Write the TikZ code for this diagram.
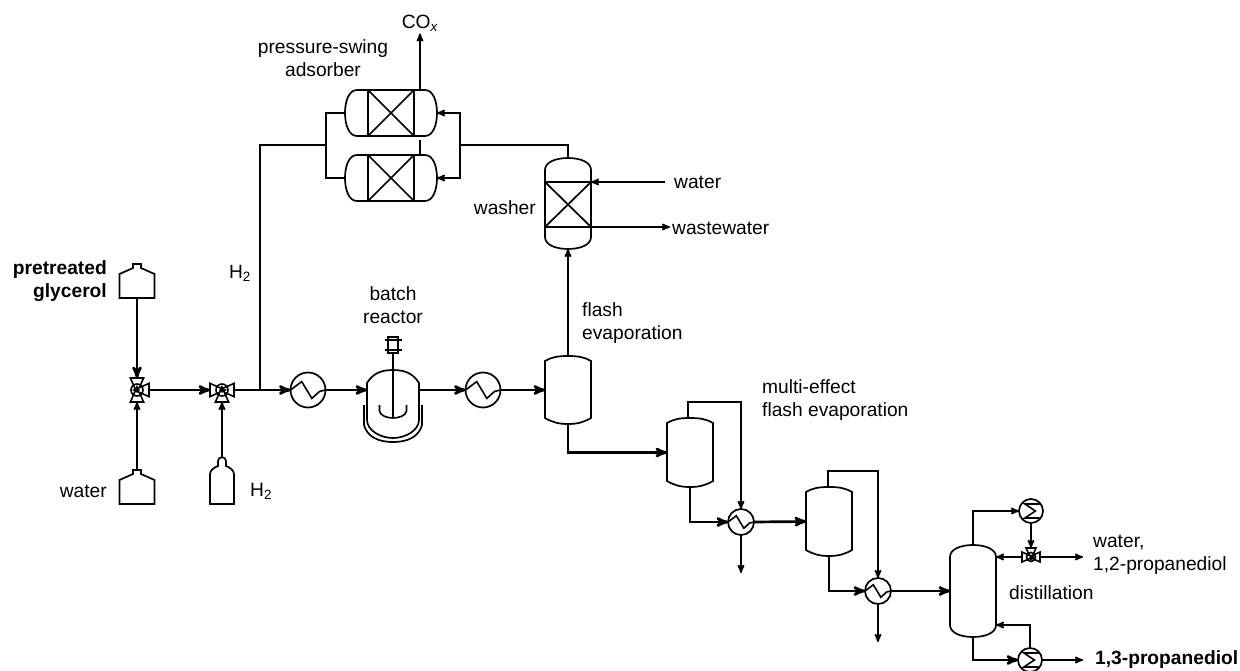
\documentclass[tikz,border=0pt]{standalone}
\usepackage{fontspec}
\setmainfont{Liberation Sans}
\usepackage{tikz}
\usetikzlibrary{arrows}
\usetikzlibrary{calc}
\tikzset{
    unit box/.style={inner sep=0pt, outer sep=0pt, minimum width=46pt},
    unit line/.style={line width=1.7pt, fill=white},
    port box/.style={circle, inner sep=0pt, outer sep=0pt}
}
% name, position, height
\newcommand{\drumunit}[3]{
    \node[unit box, minimum height=#3] (#1) at (#2) {};
    \draw[unit line] ($(#1.north west)+(0,5)$) .. controls +(7,-4) and +(-10,0) .. (#1.north)
        .. controls +(10,0) and +(-7,-4) .. ($(#1.north east)+(0,5)$)
        -- ($(#1.south east)+(0,-6)$) .. controls +(-7,4) and +(10,0) .. (#1.south)
        .. controls +(-10,0) and +(7,4) .. ($(#1.south west)+(0,-6)$) -- cycle;
}
\newcommand{\towerunit}[3]{
    \node[unit box, minimum height=#3] (#1) at (#2) {};
    \draw[unit line] ($(#1.north west)+(0,12)$) .. controls +(0,-8) and +(-12,0) .. (#1.north)
        .. controls +(12,0) and +(0,-8) .. ($(#1.north east)+(0,12)$)
        -- ($(#1.south east)+(0,-12)$) .. controls +(0,8) and +(12,0) .. (#1.south)
        .. controls +(-12,0) and +(0,8) .. ($(#1.south west)+(0,-12)$) -- cycle;
}
% name, position
\newcommand{\adsorberunit}[2]{
    \node[unit box, minimum width=92pt, minimum height=46pt] (#1) at (#2) {};
    \draw[unit line] ($(#1.north west)+(12,0)$) -- ($(#1.north east)+(-12,0)$)
        .. controls +(8,0) and +(0,-12) .. (#1.east) .. controls +(0,12) and +(8,0) .. ($(#1.south east)+(-12,0)$)
        -- ($(#1.south west)+(12,0)$) .. controls +(-8,0) and +(0,12) .. (#1.west)
        .. controls +(0,-12) and +(-8,0) .. cycle;
    \draw[unit line] ($(#1.north)+(-23,0)$) rectangle ($(#1.south)+(23,0)$);
    \draw[unit line] ($(#1.north)+(-23,0)$) -- ($(#1.south)+(23,0)$);
    \draw[unit line] ($(#1.north)+(23,0)$) -- ($(#1.south)+(-23,0)$);
}
\newcommand{\tankunit}[2]{
    \node[unit box, minimum width=35pt, minimum height=34pt] (#1) at (#2) {};
    \draw[unit line] (#1.south west) -- (#1.south east) -- ($(#1.north east)+(0,10)$)
        -- ($(#1.north)+(4,4)$) -- ($(#1.north)+(4,0)$) -- ($(#1.north)+(-4,0)$)
        -- ($(#1.north)+(-4,4)$) -- ($(#1.north west)+(0,10)$) -- cycle;
}
% name, position, radius
\newcommand{\heaterunit}[3]{
    \node[port box, draw, line width=1.7pt, fill=white, minimum size=2*#3] (#1) at (#2) {};
    \draw[line width=1.6pt, shift={(#2)}, scale=#3] (-1,0) -- (-.36,-.48) -- (.22,.48) -- (.66,.08) -- (1,0);
}
\newcommand{\coolerunit}[3]{
    \node[port box, draw, line width=1.7pt, fill=white, minimum size=2*#3] (#1) at (#2) {};
    \draw[line width=1.6pt, shift={(#2)}, scale=#3] (.72,-.58) -- (-.5,-.58) -- (.36,0) -- (-.5,.58) -- (.72,.58);
}
% radius, name, position, angles of the cones
\newcommand{\valveunit}[4][12]{
    \node[port box, minimum size=2*#1] (#2) at (#3) {};
    \begin{scope}[shift={(#3)}, scale=#1]
        \foreach \ang in {#4}
            \draw[line width=1.6pt, fill=white, rotate=\ang] (-.25,0) -- (1,-.55) -- (1,.55) -- cycle;
        \draw[line width=1.6pt] (0,0) circle (.5);
        \fill (0,0) circle (.22);
    \end{scope}
}
\begin{document}
\begin{tikzpicture}[
    x=1pt, y=-1pt,
    >=stealth',
    flow/.style={line width=1.7pt, ->},
    plain flow/.style={line width=1.7pt},
    main flow/.style={line width=2.7pt, ->},
    name text/.style={font=\fontsize{19.2}{22.5}\selectfont, inner sep=0pt, align=center},
    bold text/.style={name text, font=\fontsize{19.2}{22.5}\selectfont\bfseries}
    ]
    \useasboundingbox (0,0) rectangle (1240,671);

    % feed side
    \tankunit{tankA}{137,281}
    \tankunit{tankB}{137,487}
    \valveunit{mixA}{137,390}{90,270,0}
    \valveunit{mixB}{222,390}{0,180,270}
    % gas bottle
    \node[unit box, minimum width=24pt, minimum height=47pt] (bottle) at (222,480.5) {};
    \draw[unit line] (bottle.south west) -- (bottle.south east) -- ($(bottle.north east)+(0,17)$)
        .. controls +(0,-4) and +(3,1) .. ($(bottle.north)+(4,9)$) -- ($(bottle.north)+(4,4)$)
        .. controls +(0,-5) and +(0,-5) .. ($(bottle.north)+(-4,4)$) -- ($(bottle.north)+(-4,9)$)
        .. controls +(-3,1) and +(0,-4) .. ($(bottle.north west)+(0,17)$) -- cycle;
    \heaterunit{heatA}{308,390}{17.5}
    \heaterunit{heatB}{483,390}{17.5}

    % reactor
    \node[unit box, minimum width=52pt, minimum height=68pt] (reactor) at (393,404) {};
    \draw[unit line] ($(reactor.south west)+(-3,-33)$) -- ($(reactor.south west)+(-3,-13)$)
        .. controls +(3,11) and +(-16,0) .. ($(reactor.south)+(0,4)$)
        .. controls +(16,0) and +(-3,11) .. ($(reactor.south east)+(3,-13)$) -- ($(reactor.south east)+(3,-33)$);
    \draw[unit line] ($(reactor.north west)+(0,13)$) .. controls +(5,-8) and +(-14,0) .. (reactor.north)
        .. controls +(14,0) and +(-5,-8) .. ($(reactor.north east)+(0,13)$)
        -- ($(reactor.south east)+(0,-18)$) .. controls +(0,10) and +(13,0) .. (reactor.south)
        .. controls +(-13,0) and +(0,10) .. ($(reactor.south west)+(0,-18)$) -- cycle;
    \node[unit box, minimum width=10pt, minimum height=16pt, draw, line width=1.6pt] (motor) at (393,345) {};
    \draw[line width=1.6pt] ($(motor.north west)+(-3.5,3)$) -- ($(motor.north east)+(3.5,3)$);
    \draw[line width=1.6pt] ($(motor.south west)+(-3.5,-3)$) -- ($(motor.south east)+(3.5,-3)$);
    \coordinate (shaft) at (393,418);
    \draw[line width=1.6pt] (motor.south) -- (shaft);
    \draw[line width=1.6pt] (379.5,405) -- (379.5,411) .. controls (380,416) and (388,418) .. (shaft)
        .. controls (398,418) and (406,416) .. (406.5,411) -- (406.5,405);

    % separation
    \drumunit{flashA}{568,390}{68}
    \drumunit{flashB}{690,452.5}{69}
    \drumunit{flashC}{829,521.5}{69}
    \heaterunit{heatC}{741,522}{13}
    \heaterunit{heatD}{878,591}{13}
    \towerunit{column}{973,591}{92}
    \coolerunit{cooler}{1031,511}{12}
    \coolerunit{boiler}{1030,660}{12}
    \valveunit[9]{reflux}{1031,557}{90,0,180}

    % gas cleaning
    \towerunit{washer}{568,203.5}{91}
    \coordinate (washer top L) at ($(washer.west)+(0,-21.5)$);
    \coordinate (washer top R) at ($(washer.east)+(0,-21.5)$);
    \coordinate (washer low L) at ($(washer.west)+(0,23.5)$);
    \coordinate (washer low R) at ($(washer.east)+(0,23.5)$);
    \draw[unit line] (washer top L) -- (washer top R);
    \draw[unit line] (washer low L) -- (washer low R);
    \draw[unit line] (washer top L) -- (washer low R);
    \draw[unit line] (washer low L) -- (washer top R);
    \adsorberunit{adsA}{391,113}
    \adsorberunit{adsB}{391,178}

    % labels
    \node[bold text, align=right, anchor=east] (glycerol) at (107,281) {pretreated\\glycerol};
    \node[name text, anchor=east] (waterA) at (107,491) {water};
    \node[name text, anchor=west] (gasH) at (250,491) {H\textsubscript{2}};
    \node[name text] (lineH) at (240,273) {H\textsubscript{2}};
    \node[name text] (reactor text) at (393,305) {batch\\reactor};
    \node[name text, align=left, anchor=west] (flash text) at (582,323) {flash\\evaporation};
    \node[name text, align=left, anchor=west] (multi text) at (762,400) {multi-effect\\flash evaporation};
    \node[name text] (psa text) at (323,58) {pressure-swing\\adsorber};
    \node[name text, inner sep=2pt] (COx) at (420,23) {CO\textsubscript{\textit{x}}};
    \node[name text, anchor=east] (washer text) at (536,208) {washer};
    \node[name text, anchor=west] (waterB) at (674,182) {water};
    \node[name text, anchor=west] (wastewater) at (672,228) {wastewater};
    \node[name text, anchor=west] (dist text) at (1009,593) {distillation};
    \node[name text, align=left, anchor=west] (lights) at (1093,555) {water,\\1,2-propanediol};
    \node[bold text, anchor=west] (product) at (1095,660) {1,3-propanediol};

    % free ends and branch points
    \coordinate (teeH) at (260,390);
    \coordinate (adsA out) at (420,90);
    \coordinate (adsB stub) at (420,155);
    \coordinate (adsB stub end) at (420,140);
    \coordinate (splitL) at (326,145);
    \coordinate (splitR) at (460,145);
    \coordinate (reactor in) at (367,390);
    \coordinate (reactor out) at (419,390);
    \coordinate (waterB end) at (665,182);
    \coordinate (wastewater end) at (670,227);
    \coordinate (drainC) at (741,573);
    \coordinate (drainD) at (878,642);
    \coordinate (lights end) at (1083,557);
    \coordinate (product end) at (1083,660);
    \coordinate (col return) at (996,557);
    \coordinate (col boil) at (996,625);
    \coordinate (topB) at (688,418);
    \coordinate (topC) at (828,487);

    % main stream
    \draw[main flow] (tankA.south) -- (mixA.north);
    \draw[flow] (tankB.north) -- (mixA.south);
    \draw[main flow] (mixA.east) -- (mixB.west);
    \draw[flow] (bottle.north) -- (mixB.south);
    \draw[main flow] (mixB.east) -- (heatA.west);
    \draw[main flow] (heatA.east) -- (reactor in);
    \draw[main flow] (reactor out) -- (heatB.west);
    \draw[main flow] (heatB.east) -- (flashA.west);
    \draw[main flow] (flashA.south) |- (flashB.west);
    \draw[main flow] (flashB.south) |- (heatC.west);
    \draw[main flow] (heatC.east) -- (flashC.west);
    \draw[main flow] (flashC.south) |- (heatD.west);
    \draw[main flow] (heatD.east) -- (column.west);
    % vapour lines
    \draw[flow] (flashA.north) -- (washer.south);
    \draw[flow] (topB) -- +(0,-16) -| (heatC.north);
    \draw[flow] (heatC.south) -- (drainC);
    \draw[flow] (topC) -- +(0,-16) -| (heatD.north);
    \draw[flow] (heatD.south) -- (drainD);
    % hydrogen loop
    \draw[plain flow] (teeH) -- (teeH |- splitL) -- (splitL);
    \draw[plain flow] (adsA.west) -| (splitL) |- (adsB.west);
    \draw[flow] (splitR) |- (adsA.east);
    \draw[flow] (splitR) |- (adsB.east);
    \draw[plain flow] (washer.north) |- (splitR);
    \draw[flow] (adsA out) -- (COx.south);
    \draw[plain flow] (adsB stub) -- (adsB stub end);
    \draw[flow] (waterB end) -- (washer top R);
    \draw[flow] (washer low R) -- (wastewater end);
    % column loops
    \draw[flow] (column.north) |- (cooler.west);
    \draw[flow] (cooler.south) -- (reflux.north);
    \draw[flow] (reflux.west) -- (col return);
    \draw[flow] (reflux.east) -- (lights end);
    \draw[main flow] (column.south) |- (boiler.west);
    \draw[flow] (boiler.east) -- (product end);
    \draw[flow] (boiler.north) |- (col boil);
\end{tikzpicture}
\end{document}
